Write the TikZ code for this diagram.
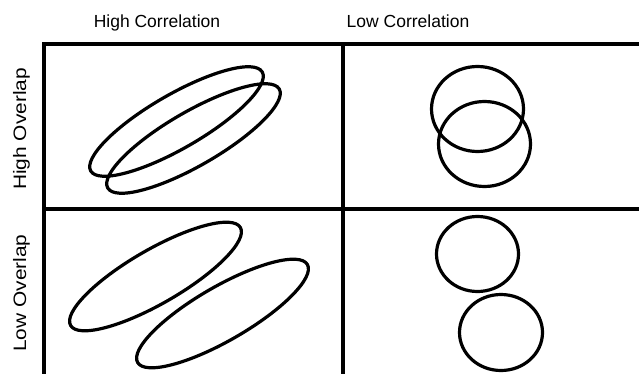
\documentclass[tikz,border=0pt]{standalone}
\usepackage{fontspec}
\setmainfont{Liberation Sans}
\begin{document}
\begin{tikzpicture}[x=1pt,y=-1pt,
  frameline/.style={line width=3.2pt},
  shapeline/.style={line width=3.2pt},
  collabel/.style={anchor=base,inner sep=0pt,font=\fontsize{17.5}{20}\selectfont},
  rowlabel/.style={anchor=base,rotate=90,inner sep=0pt,font=\fontsize{18}{20}\selectfont}]
\useasboundingbox (0,0) rectangle (639,374);
% labels
\node[collabel] (hc) at (157,28) {High Correlation};
\node[collabel] (lc) at (408,28) {Low Correlation};
\node[rowlabel] (ho) at (26,129) {\scalebox{1.16}[1]{High Overlap}};
\node[rowlabel] (lo) at (26,293) {\scalebox{1.16}[1]{Low Overlap}};
% frame
\draw[frameline] (639,44) -- (44,44) -- (44,374);
\draw[frameline] (343,44) -- (343,374);
\draw[frameline] (44,209) -- (639,209);
% high correlation, high overlap
\draw[shapeline,rotate around={30:(176.5,121.5)}] (176.5,121.5) ellipse [x radius=99, y radius=27];
\draw[shapeline,rotate around={30:(193.5,138.5)}] (193.5,138.5) ellipse [x radius=99, y radius=27];
% high correlation, low overlap
\draw[shapeline,rotate around={30:(155.5,276.5)}] (155.5,276.5) ellipse [x radius=98, y radius=27];
\draw[shapeline,rotate around={30:(222.5,313.5)}] (222.5,313.5) ellipse [x radius=98, y radius=27];
% low correlation, high overlap
\draw[shapeline] (477.5,109) ellipse [x radius=46, y radius=42.5];
\draw[shapeline] (484.5,144) ellipse [x radius=46, y radius=42.5];
% low correlation, low overlap
\draw[shapeline] (477.5,254) ellipse [x radius=41, y radius=37.5];
\draw[shapeline] (501,332.5) ellipse [x radius=41.5, y radius=38];
\end{tikzpicture}
\end{document}
